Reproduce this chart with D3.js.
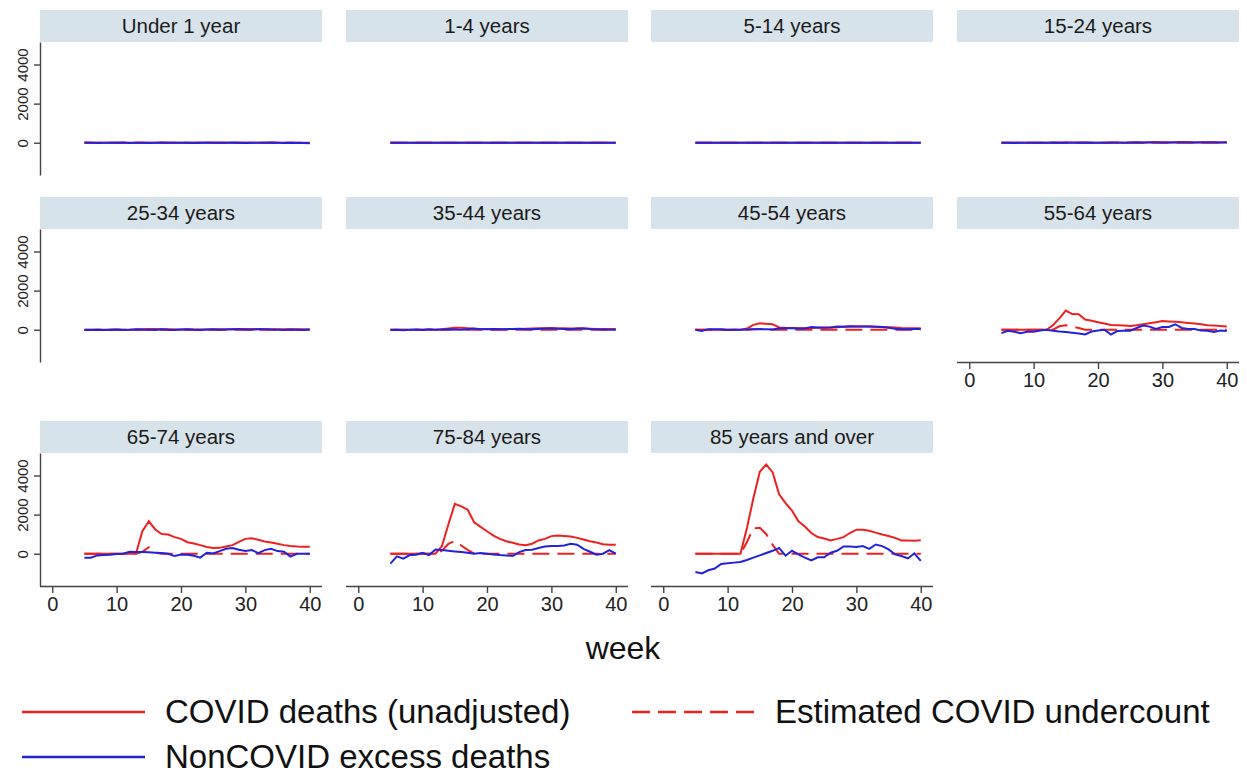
<!DOCTYPE html>
<html>
<head>
<meta charset="utf-8">
<script src="https://cdn.jsdelivr.net/npm/d3@7"></script>
<style>
  body { margin: 0; background: #fff; }
  svg { display: block; font-family: "Liberation Sans", Arial, sans-serif; }
</style>
</head>
<body>
<div id="my_dataviz"></div>
<script>
// age groups, one panel each
var ageGroups = ["Under 1 year", "1-4 years", "5-14 years", "15-24 years",
                 "25-34 years", "35-44 years", "45-54 years", "55-64 years",
                 "65-74 years", "75-84 years", "85 years and over"];

// weeks 5..40
var weeks = [5, 6, 7, 8, 9, 10, 11, 12, 13, 14, 15, 16, 17, 18, 19, 20, 21, 22,
             23, 24, 25, 26, 27, 28, 29, 30, 31, 32, 33, 34, 35, 36, 37, 38, 39, 40];

var xTicks = [0, 10, 20, 30, 40];
var yTicks = [0, 2000, 4000];

// COVID deaths (unadjusted), per age group
var covidDeaths = [
  [0,0,0,0,0,0,0,0,0,0,0,0,0,0,0,0,0,0,0,0,0,0,0,0,0,0,0,0,0,0,0,0,0,0,0,0],
  [0,0,0,0,0,0,0,0,0,0,0,0,0,0,0,0,0,0,0,0,0,0,0,0,0,0,0,0,0,0,0,0,0,0,0,0],
  [0,0,0,0,0,0,0,0,0,0,0,0,0,0,0,0,0,0,0,0,0,0,0,0,0,0,0,0,0,0,0,0,0,0,0,0],
  [0,0,0,0,0,0,0,0,0,5,10,10,10,5,5,5,5,5,5,5,5,5,5,10,10,10,15,15,15,10,10,10,10,10,10,10],
  [0,0,0,0,0,0,0,0,5,20,40,40,30,20,15,15,10,10,10,10,15,20,25,30,35,40,40,35,30,25,20,20,20,20,20,20],
  [0,0,0,0,0,0,0,0,20,60,100,100,80,50,40,35,30,30,30,35,40,50,60,70,80,80,80,70,60,60,50,50,40,40,40,40],
  [0,0,0,0,0,0,0,0,60,250,330,300,280,120,100,90,80,80,90,100,110,120,130,150,160,170,170,160,150,140,130,110,90,80,80,80],
  [0,0,0,0,0,0,0,0,230,580,980,800,790,525,455,385,315,245,230,210,190,230,280,330,385,440,420,405,385,350,315,280,230,210,190,160],
  [0,0,0,0,0,0,0,0,0,1150,1660,1240,1010,980,850,760,590,520,440,340,290,300,370,440,610,760,790,710,630,575,510,440,400,370,355,355],
  [0,0,0,0,0,0,0,0,390,1490,2550,2420,2250,1610,1370,1150,930,760,640,560,470,440,510,680,760,900,930,910,880,810,730,640,575,490,460,460],
  [0,0,0,0,0,0,0,0,1320,2840,4190,4560,4160,3040,2590,2200,1660,1390,1060,850,780,680,760,850,1060,1230,1220,1170,1080,980,910,810,680,680,660,690]
];

// Estimated COVID undercount
var undercount = [
  [0,0,0,0,0,0,0,0,0,0,0,0,0,0,0,0,0,0,0,0,0,0,0,0,0,0,0,0,0,0,0,0,0,0,0,0],
  [0,0,0,0,0,0,0,0,0,0,0,0,0,0,0,0,0,0,0,0,0,0,0,0,0,0,0,0,0,0,0,0,0,0,0,0],
  [0,0,0,0,0,0,0,0,0,0,0,0,0,0,0,0,0,0,0,0,0,0,0,0,0,0,0,0,0,0,0,0,0,0,0,0],
  [0,0,0,0,0,0,0,0,0,0,0,0,0,0,0,0,0,0,0,0,0,0,0,0,0,0,0,0,0,0,0,0,0,0,0,0],
  [0,0,0,0,0,0,0,0,0,0,0,0,0,0,0,0,0,0,0,0,0,0,0,0,0,0,0,0,0,0,0,0,0,0,0,0],
  [0,0,0,0,0,0,0,0,0,0,20,20,0,0,0,0,0,0,0,0,0,0,0,0,0,0,0,0,0,0,0,0,0,0,0,0],
  [0,0,0,0,0,0,0,0,0,20,40,30,0,0,0,0,0,0,0,0,0,0,0,0,0,0,0,0,0,0,0,0,0,0,0,0],
  [0,0,0,0,0,0,0,0,0,175,230,160,90,0,0,0,0,0,0,0,0,0,0,0,0,0,0,0,0,0,0,0,0,0,0,0],
  [0,0,0,0,0,0,0,0,0,100,330,60,0,0,0,0,0,0,0,0,0,0,0,0,0,0,0,0,0,0,0,0,0,0,0,0],
  [0,0,0,0,0,0,0,0,150,500,650,420,200,0,0,0,0,0,0,0,0,0,0,0,0,0,0,0,0,0,0,0,0,0,0,0],
  [0,0,0,0,0,0,0,0,600,1300,1330,1000,450,0,0,0,0,0,0,0,0,0,0,0,0,0,0,0,0,0,0,0,0,0,0,0]
];

// NonCOVID excess deaths
var nonCovid = [
  [10,0,-10,5,-5,0,10,-10,0,5,-10,0,10,0,-5,5,0,-10,0,10,5,-5,0,10,0,-10,5,0,-5,10,0,-10,0,-15,-20,-30],
  [0,5,0,-5,0,5,0,0,-5,0,5,0,0,-5,0,5,0,0,5,0,-5,0,5,0,0,5,0,-5,0,0,5,0,0,-5,0,0],
  [0,-5,0,5,0,0,-5,0,5,0,0,-5,0,5,0,0,5,0,0,-5,0,5,0,0,5,0,-5,0,5,0,0,5,0,0,-5,0],
  [-5,0,-10,0,5,0,-5,0,10,5,0,-5,0,10,5,0,5,10,10,5,15,20,10,20,25,15,10,20,30,20,15,20,25,20,15,20],
  [-20,-10,0,-20,0,10,-10,0,30,10,0,-10,20,0,-10,10,20,0,-10,10,20,0,10,30,20,10,0,20,30,10,0,-10,10,0,-10,0],
  [-20,0,-30,0,10,-10,20,0,10,20,10,0,30,60,20,30,40,20,30,40,50,30,20,40,60,70,50,40,30,60,80,40,20,10,0,0],
  [0,-60,30,20,20,-10,0,0,10,20,30,20,10,80,80,70,60,60,140,120,100,110,170,150,180,170,170,160,150,140,100,50,20,30,40,40],
  [-175,-50,-105,-175,-105,-105,-35,0,-50,-90,-120,-155,-190,-245,-90,-35,0,-245,-70,-50,-50,90,210,160,35,140,140,280,90,35,35,-35,-50,-120,-35,-70],
  [-200,-200,-85,-70,-50,-20,0,100,85,85,70,50,35,0,-120,-35,-50,-100,-200,50,15,135,250,290,200,135,185,35,185,250,135,100,-150,0,0,0],
  [-510,-135,-250,-70,-50,50,-70,220,185,150,120,85,50,0,35,0,-35,-70,-85,-120,85,185,200,290,370,400,400,420,510,460,250,100,-50,0,185,0],
  [-930,-1010,-845,-760,-520,-490,-455,-420,-320,-200,-85,35,150,300,-100,150,-35,-200,-340,-185,-185,50,150,370,370,340,390,250,470,390,220,-35,-120,-240,15,-370]
];

var red = "#ee2020", blue = "#2222dd";

var W = 1247, H = 776;
var colX = [40, 346, 651, 957],
    stripTop = [10, 197, 421],
    stripH = 32,
    pw = 282, ph = 133;

var svg = d3.select("#my_dataviz")
  .append("svg")
  .attr("width", W)
  .attr("height", H);

var x = d3.scaleLinear().domain([-1.9, 41.9]).range([0, pw]);
var y = d3.scaleLinear().domain([-1650, 5150]).range([ph, 0]);

var line = d3.line()
  .x(function(d) { return x(d[0]); })
  .y(function(d) { return y(d[1]); });

ageGroups.forEach(function(name, i) {
  var col = i % 4, row = Math.floor(i / 4);
  var g = svg.append("g")
    .attr("transform", "translate(" + colX[col] + "," + stripTop[row] + ")");

  // strip header
  g.append("rect")
    .attr("width", pw).attr("height", stripH)
    .attr("fill", "#d7e3ea");
  g.append("text")
    .attr("x", pw / 2).attr("y", stripH / 2 + 7)
    .attr("text-anchor", "middle")
    .attr("font-size", 20.5)
    .attr("fill", "#1a1a1a")
    .text(name);

  var p = g.append("g").attr("transform", "translate(0," + stripH + ")");

  // y axis on the first column
  if (col === 0) {
    var ya = p.append("g")
      .call(d3.axisLeft(y).tickValues(yTicks).tickFormat(d3.format("d"))
        .tickSize(6).tickSizeOuter(0));
    ya.selectAll("text")
      .attr("transform", "rotate(-90)")
      .attr("x", 0).attr("y", -12).attr("dy", 0)
      .attr("text-anchor", "middle")
      .attr("font-size", 15)
      .attr("font-family", "Liberation Sans, Arial, sans-serif")
      .attr("fill", "#222");
    ya.selectAll("line, path").attr("stroke", "#444").attr("stroke-width", 1.4);
  }

  // x axis on the bottom panel of each column
  if (row === 2 || (row === 1 && col === 3)) {
    var xa = p.append("g")
      .attr("transform", "translate(0," + ph + ")")
      .call(d3.axisBottom(x).tickValues(xTicks).tickSize(7).tickSizeOuter(0));
    xa.select(".domain").attr("d", "M0,0.5H" + pw);
    xa.selectAll("text")
      .attr("y", 11)
      .attr("font-size", 20)
      .attr("font-family", "Liberation Sans, Arial, sans-serif")
      .attr("fill", "#222");
    xa.selectAll("line, path").attr("stroke", "#444").attr("stroke-width", 1.4);
  }

  var cd = weeks.map(function(w, k) { return [w, covidDeaths[i][k]]; });
  var uc = weeks.map(function(w, k) { return [w, undercount[i][k]]; });
  var nc = weeks.map(function(w, k) { return [w, nonCovid[i][k]]; });

  p.append("path").datum(cd)
    .attr("fill", "none").attr("stroke", red).attr("stroke-width", 2)
    .attr("d", line);
  p.append("path").datum(uc)
    .attr("fill", "none").attr("stroke", red).attr("stroke-width", 2)
    .attr("stroke-dasharray", "17,8")
    .attr("d", line);
  p.append("path").datum(nc)
    .attr("fill", "none").attr("stroke", blue).attr("stroke-width", 2)
    .attr("d", line);
});

// x axis title
svg.append("text")
  .attr("x", 623).attr("y", 659)
  .attr("text-anchor", "middle")
  .attr("font-size", 32)
  .attr("fill", "#111")
  .text("week");

// legend
var legendItems = [
  {label: "COVID deaths (unadjusted)", color: red, dash: null, x: 22, y: 712},
  {label: "Estimated COVID undercount", color: red, dash: "18,8", x: 632, y: 712},
  {label: "NonCOVID excess deaths", color: blue, dash: null, x: 22, y: 757}
];
var lg = svg.append("g");
legendItems.forEach(function(d) {
  lg.append("line")
    .attr("x1", d.x).attr("x2", d.x + 123)
    .attr("y1", d.y).attr("y2", d.y)
    .attr("stroke", d.color).attr("stroke-width", 2.5)
    .attr("stroke-dasharray", d.dash);
  lg.append("text")
    .attr("x", d.x + 143).attr("y", d.y + 11)
    .attr("font-size", 33)
    .attr("fill", "#111")
    .text(d.label);
});
</script>
</body>
</html>
